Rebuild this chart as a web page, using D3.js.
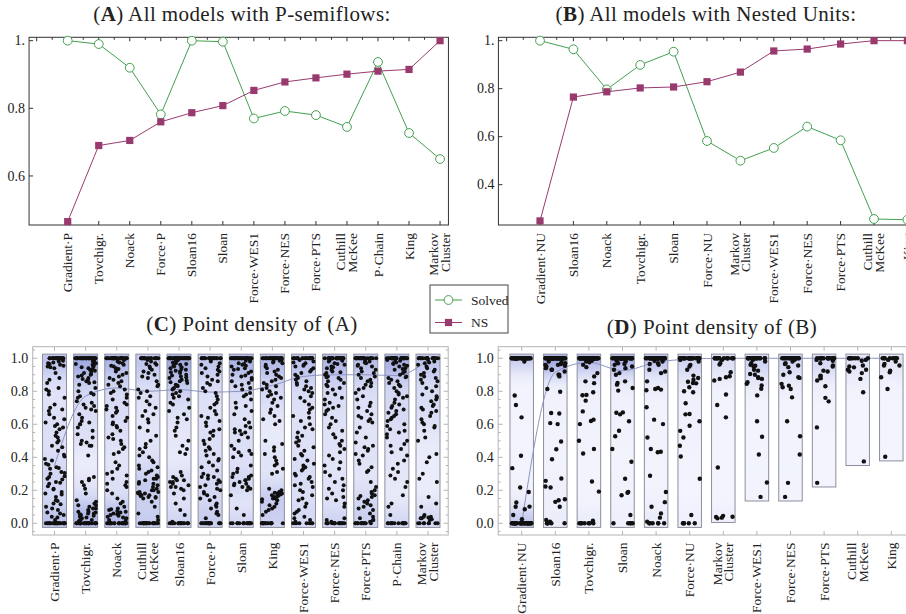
<!DOCTYPE html>
<html>
<head>
<meta charset="utf-8">
<script src="https://cdn.jsdelivr.net/npm/d3@7"></script>
<style>
body { margin: 0; background: #fff; }
svg text { font-family: "Liberation Serif", "Times New Roman", "DejaVu Serif", serif; fill: #222; }
</style>
</head>
<body>
<svg id="chart" width="906" height="614"></svg>
<script>
// ---- panel A / B: solved fraction and NS per method
var catsA = ["Gradient·P", "Tovchigr.", "Noack", "Force·P", "Sloan16", "Sloan", "Force·WES1", "Force·NES", "Force·PTS", "Cuthill\nMcKee", "P·Chain", "King", "Markov\nCluster"];
var solvedA = [1.0, 0.99, 0.92, 0.782, 1.0, 0.997, 0.77, 0.792, 0.78, 0.745, 0.937, 0.727, 0.65];
var nsA = [0.465, 0.69, 0.705, 0.76, 0.787, 0.808, 0.853, 0.878, 0.89, 0.901, 0.91, 0.915, 1.0];

var catsB = ["Gradient·NU", "Sloan16", "Noack", "Tovchigr.", "Sloan", "Force·NU", "Markov\nCluster", "Force·WES1", "Force·NES", "Force·PTS", "Cuthill\nMcKee", "King"];
var solvedB = [1.0, 0.964, 0.797, 0.899, 0.954, 0.582, 0.5, 0.553, 0.642, 0.585, 0.257, 0.254];
var nsB = [0.249, 0.765, 0.787, 0.803, 0.807, 0.829, 0.869, 0.957, 0.965, 0.986, 1.0, 1.0];

var ticksA = [0.6, 0.8, 1.0];
var ticksB = [0.4, 0.6, 0.8, 1.0];
var ticksCD = [0, 0.2, 0.4, 0.6, 0.8, 1.0];

// ---- panel C: point density of (A)
var catsC = ["Gradient·P", "Tovchigr.", "Noack", "Cuthill\nMcKee", "Sloan16", "Force·P", "Sloan", "King", "Force·WES1", "Force·NES", "Force·PTS", "P·Chain", "Markov\nCluster"];
var lineC = [0.35, 0.77, 0.82, 0.80, 0.81, 0.795, 0.80, 0.835, 0.89, 0.90, 0.90, 0.895, 0.99];
var topPileC = [20, 30, 28, 18, 30, 18, 28, 25, 20, 25, 22, 28, 18];   // points stacked at 1.0
var bottomPileC = [22, 22, 22, 20, 15, 18, 15, 15, 8, 15, 12, 15, 8];  // points stacked at 0.0
var pointsC = [
  [0.985,0.98,0.975,0.97,0.965,0.96,0.955,0.95,0.945,0.94,0.91,0.88,0.87,0.85,0.82,0.81,0.8,0.78,0.76,0.72,0.7,0.69,0.68,0.66,0.64,0.63,0.61,0.6,0.59,0.58,0.57,0.55,0.53,0.52,0.5,0.49,0.47,0.46,0.44,0.415,0.405,0.39,0.38,0.36,0.355,0.34,0.335,0.33,0.31,0.305,0.3,0.285,0.28,0.27,0.265,0.25,0.245,0.24,0.225,0.21,0.205,0.19,0.18,0.175,0.16,0.14,0.135,0.12,0.115,0.1,0.09,0.08,0.065,0.06,0.05,0.04,0.035,0.02],
  [0.99,0.985,0.98,0.975,0.97,0.965,0.96,0.955,0.95,0.945,0.94,0.935,0.93,0.925,0.92,0.91,0.905,0.9,0.895,0.89,0.88,0.875,0.87,0.86,0.855,0.85,0.84,0.82,0.8,0.79,0.78,0.77,0.76,0.74,0.73,0.72,0.71,0.7,0.69,0.68,0.66,0.64,0.62,0.61,0.6,0.6,0.58,0.56,0.54,0.52,0.5,0.49,0.48,0.47,0.47,0.41,0.28,0.27,0.26,0.25,0.23,0.21,0.18,0.14,0.13,0.12,0.11,0.11,0.1,0.09,0.09,0.08,0.07,0.07,0.065,0.06,0.06,0.055,0.05,0.045,0.04,0.035,0.03,0.025,0.02,0.015,0.01],
  [0.99,0.98,0.975,0.97,0.96,0.955,0.95,0.94,0.935,0.93,0.92,0.91,0.9,0.89,0.88,0.87,0.86,0.85,0.84,0.83,0.81,0.8,0.79,0.78,0.76,0.75,0.73,0.72,0.71,0.7,0.69,0.68,0.67,0.65,0.64,0.62,0.61,0.6,0.59,0.58,0.56,0.54,0.52,0.51,0.5,0.48,0.46,0.45,0.43,0.42,0.37,0.35,0.33,0.31,0.3,0.29,0.27,0.25,0.24,0.23,0.22,0.2,0.18,0.15,0.13,0.12,0.1,0.09,0.085,0.08,0.075,0.07,0.065,0.06,0.06,0.055,0.05,0.045,0.04,0.035,0.03,0.02,0.015],
  [0.99,0.98,0.97,0.965,0.96,0.95,0.94,0.93,0.92,0.91,0.9,0.89,0.88,0.86,0.84,0.83,0.81,0.8,0.79,0.77,0.76,0.74,0.72,0.7,0.68,0.66,0.65,0.63,0.61,0.58,0.56,0.53,0.5,0.48,0.46,0.45,0.43,0.41,0.4,0.38,0.37,0.35,0.34,0.33,0.32,0.31,0.3,0.29,0.28,0.27,0.27,0.26,0.25,0.24,0.24,0.23,0.22,0.21,0.2,0.2,0.19,0.19,0.185,0.18,0.18,0.175,0.17,0.17,0.165,0.16,0.16,0.155,0.15,0.13,0.1,0.06,0.04,0.02],
  [0.99,0.985,0.98,0.975,0.97,0.965,0.96,0.955,0.95,0.945,0.94,0.935,0.93,0.925,0.92,0.915,0.91,0.9,0.895,0.89,0.885,0.88,0.87,0.865,0.86,0.855,0.85,0.84,0.835,0.83,0.82,0.815,0.81,0.8,0.79,0.78,0.77,0.76,0.75,0.73,0.72,0.7,0.68,0.66,0.64,0.63,0.61,0.58,0.56,0.53,0.5,0.47,0.45,0.43,0.42,0.31,0.29,0.28,0.27,0.26,0.26,0.25,0.25,0.24,0.23,0.22,0.22,0.21,0.2,0.18,0.15,0.12,0.08,0.05,0.01],
  [0.99,0.98,0.97,0.96,0.95,0.94,0.93,0.92,0.91,0.9,0.89,0.87,0.86,0.85,0.84,0.82,0.8,0.79,0.77,0.75,0.73,0.72,0.7,0.68,0.66,0.65,0.64,0.62,0.61,0.59,0.57,0.56,0.55,0.53,0.51,0.5,0.48,0.46,0.45,0.44,0.42,0.41,0.39,0.38,0.37,0.35,0.34,0.32,0.3,0.29,0.28,0.28,0.27,0.26,0.25,0.24,0.23,0.22,0.21,0.2,0.19,0.18,0.17,0.16,0.15,0.14,0.12,0.11,0.1,0.09,0.07,0.06,0.05,0.03],
  [0.99,0.985,0.98,0.97,0.965,0.96,0.955,0.95,0.94,0.935,0.93,0.92,0.91,0.9,0.895,0.89,0.88,0.87,0.86,0.85,0.84,0.83,0.82,0.81,0.79,0.78,0.77,0.75,0.73,0.71,0.7,0.68,0.66,0.63,0.61,0.59,0.58,0.57,0.56,0.55,0.55,0.54,0.52,0.5,0.47,0.45,0.44,0.43,0.42,0.41,0.4,0.35,0.33,0.31,0.3,0.29,0.28,0.28,0.27,0.26,0.26,0.25,0.24,0.24,0.23,0.22,0.22,0.21,0.2,0.17,0.09,0.05],
  [0.99,0.985,0.98,0.975,0.97,0.96,0.95,0.94,0.93,0.92,0.91,0.9,0.89,0.88,0.87,0.86,0.85,0.84,0.83,0.82,0.81,0.8,0.79,0.78,0.77,0.76,0.75,0.73,0.71,0.69,0.67,0.65,0.63,0.62,0.6,0.5,0.48,0.46,0.44,0.42,0.4,0.38,0.36,0.35,0.33,0.31,0.3,0.21,0.2,0.19,0.185,0.18,0.18,0.175,0.17,0.17,0.165,0.16,0.16,0.155,0.15,0.15,0.145,0.14,0.13,0.12,0.11,0.1,0.09,0.08,0.07,0.05],
  [0.99,0.98,0.975,0.97,0.96,0.955,0.95,0.94,0.93,0.92,0.91,0.9,0.89,0.88,0.87,0.86,0.85,0.84,0.83,0.82,0.81,0.8,0.79,0.77,0.76,0.74,0.72,0.7,0.69,0.67,0.65,0.64,0.62,0.6,0.58,0.57,0.55,0.53,0.52,0.5,0.49,0.47,0.46,0.44,0.42,0.41,0.39,0.38,0.36,0.35,0.34,0.33,0.32,0.3,0.29,0.28,0.27,0.25,0.24,0.23,0.22,0.2,0.19,0.17,0.15,0.14,0.12,0.1,0.08,0.07,0.06,0.04,0.03,0.02,0.01],
  [0.99,0.985,0.98,0.97,0.965,0.96,0.95,0.945,0.94,0.93,0.92,0.915,0.91,0.9,0.89,0.885,0.88,0.87,0.86,0.85,0.84,0.83,0.82,0.81,0.79,0.78,0.76,0.75,0.73,0.72,0.71,0.7,0.69,0.68,0.66,0.64,0.62,0.6,0.58,0.56,0.54,0.52,0.5,0.48,0.47,0.45,0.43,0.41,0.39,0.37,0.35,0.33,0.31,0.29,0.27,0.25,0.23,0.21,0.2,0.18,0.16,0.15,0.14,0.12,0.1,0.03,0.02,0.01],
  [0.99,0.98,0.975,0.97,0.96,0.955,0.95,0.94,0.93,0.92,0.91,0.9,0.89,0.88,0.87,0.86,0.85,0.84,0.83,0.82,0.81,0.79,0.77,0.75,0.73,0.71,0.7,0.68,0.66,0.65,0.64,0.63,0.62,0.61,0.58,0.55,0.52,0.49,0.47,0.46,0.45,0.44,0.42,0.41,0.38,0.36,0.34,0.32,0.31,0.25,0.22,0.2,0.19,0.18,0.17,0.165,0.16,0.15,0.14,0.13,0.12,0.11,0.1,0.09,0.08,0.06,0.04,0.03,0.02,0.02,0.01],
  [0.99,0.985,0.98,0.975,0.97,0.965,0.96,0.955,0.95,0.94,0.935,0.93,0.92,0.91,0.9,0.89,0.885,0.88,0.87,0.86,0.85,0.84,0.83,0.82,0.8,0.79,0.78,0.77,0.76,0.75,0.73,0.72,0.71,0.7,0.69,0.68,0.67,0.66,0.65,0.64,0.63,0.62,0.6,0.59,0.57,0.56,0.55,0.54,0.52,0.5,0.48,0.47,0.45,0.43,0.41,0.38,0.36,0.33,0.31,0.29,0.27,0.25,0.22,0.17,0.12,0.1,0.05],
  [0.99,0.98,0.975,0.97,0.96,0.95,0.94,0.93,0.92,0.91,0.9,0.89,0.88,0.87,0.86,0.85,0.83,0.82,0.8,0.78,0.77,0.76,0.75,0.74,0.72,0.71,0.7,0.69,0.68,0.67,0.65,0.63,0.61,0.6,0.59,0.58,0.56,0.52,0.5,0.42,0.4,0.37,0.3,0.27,0.25,0.16,0.12,0.1,0.05,0.04,0.04,0.035,0.03,0.03,0.025,0.02]
];

// ---- panel D: point density of (B)
var catsD = ["Gradient·NU", "Sloan16", "Tovchigr.", "Sloan", "Noack", "Force·NU", "Markov\nCluster", "Force·WES1", "Force·NES", "Force·PTS", "Cuthill\nMcKee", "King"];
var lineD = [0.0, 0.915, 0.975, 0.925, 0.975, 0.995, 1.0, 1.0, 1.0, 1.0, 1.0, 1.0];
var topPileD = [30, 40, 36, 38, 30, 22, 14, 16, 18, 16, 8, 8];
var bottomPileD = [30, 5, 7, 5, 6, 5, 0, 0, 0, 0, 0, 0];
var pointsD = [
  [0.98, 0.774, 0.717, 0.642, 0.409, 0.334, 0.217, 0.19, 0.126, 0.101, 0.1, 0.085, 0.05, 0.024],
  [0.98, 0.975, 0.97, 0.965, 0.96, 0.96, 0.955, 0.95, 0.94, 0.93, 0.93, 0.92, 0.9, 0.9, 0.89, 0.814, 0.797, 0.668, 0.665, 0.607, 0.601, 0.496, 0.449, 0.388, 0.271, 0.257, 0.223, 0.217, 0.146, 0.14, 0.13, 0.1, 0.02, 0.01],
  [0.985, 0.98, 0.976, 0.96, 0.946, 0.91, 0.89, 0.86, 0.849, 0.794, 0.778, 0.776, 0.743, 0.678, 0.628, 0.62, 0.601, 0.5, 0.45, 0.423, 0.253, 0.192, 0.015, 0.01],
  [0.985, 0.98, 0.97, 0.965, 0.96, 0.95, 0.94, 0.93, 0.91, 0.9, 0.86, 0.85, 0.84, 0.82, 0.804, 0.672, 0.67, 0.66, 0.618, 0.561, 0.527, 0.45, 0.373, 0.27, 0.19, 0.185, 0.17, 0.05],
  [0.985, 0.98, 0.97, 0.965, 0.96, 0.93, 0.92, 0.91, 0.86, 0.82, 0.814, 0.81, 0.806, 0.703, 0.628, 0.601, 0.52, 0.45, 0.433, 0.43, 0.288, 0.19, 0.128, 0.1, 0.06, 0.034, 0.01],
  [0.99, 0.98, 0.96, 0.95, 0.93, 0.895, 0.88, 0.87, 0.858, 0.85, 0.848, 0.824, 0.8, 0.794, 0.727, 0.662, 0.66, 0.618, 0.591, 0.56, 0.52, 0.47, 0.405, 0.27, 0.05],
  [0.99, 0.97, 0.962, 0.915, 0.891, 0.885, 0.875, 0.865, 0.78, 0.717, 0.642, 0.338, 0.045, 0.04, 0.038, 0.034, 0.03],
  [0.99, 0.98, 0.97, 0.96, 0.955, 0.95, 0.93, 0.925, 0.905, 0.9, 0.885, 0.88, 0.875, 0.855, 0.845, 0.835, 0.815, 0.775, 0.618, 0.524, 0.417, 0.247, 0.16],
  [0.99, 0.98, 0.97, 0.965, 0.956, 0.946, 0.915, 0.9, 0.885, 0.881, 0.845, 0.834, 0.824, 0.814, 0.763, 0.618, 0.527, 0.417, 0.245, 0.16],
  [0.99, 0.985, 0.97, 0.956, 0.95, 0.925, 0.92, 0.895, 0.889, 0.879, 0.865, 0.83, 0.76, 0.739, 0.581, 0.245],
  [0.99, 0.985, 0.956, 0.95, 0.945, 0.93, 0.93, 0.92, 0.91, 0.875, 0.794, 0.375],
  [0.99, 0.98, 0.966, 0.956, 0.956, 0.925, 0.915, 0.885, 0.814, 0.403]
];

var green = "#43a050";
var purple = "#993a6e";
var serif = "'Liberation Serif', 'Times New Roman', 'DejaVu Serif', serif";

var svg = d3.select("#chart").attr("font-family", serif);
var defs = svg.append("defs");

function fmtA(d) { return d === 1 ? "1." : d3.format(".1f")(d); }

// deterministic jitter inside a box (layout only)
function jit(i, c) {
  var s = Math.sin(i * 127.1 + c * 311.7 + 1.3) * 43758.5453;
  return s - Math.floor(s);
}

function addTitle(cx, y, letter, rest) {
  var t = svg.append("text")
    .attr("x", cx).attr("y", y)
    .attr("text-anchor", "middle")
    .style("font-family", serif)
    .style("font-size", "21px")
    .style("letter-spacing", "0.4px");
  t.append("tspan").text("(");
  t.append("tspan").style("font-weight", "bold").text(letter);
  t.append("tspan").text(") " + rest);
}

function catLabels(g, cats, x, yTop) {
  cats.forEach(function(c, i) {
    var lines = c.split("\n");
    lines.forEach(function(s, k) {
      var off = lines.length === 1 ? 4.5 : (k === 0 ? -1.8 : 9.8);
      g.append("text")
        .attr("transform", "translate(" + (x(i) + off) + "," + yTop + ") rotate(-90)")
        .attr("text-anchor", "end")
        .style("font-family", serif)
        .style("font-size", "13.5px")
        .text(s);
    });
  });
}

// ---------- line panels (A, B)
function linePanel(o) {
  var n = o.cats.length;
  var top = 37.3, bottom = 225;
  var x = d3.scaleLinear().domain([0, n - 1]).range([o.xFirst, o.xFirst + (n - 1) * o.step]);
  var y = d3.scaleLinear().domain(o.yDomain).range([bottom, top]);
  var left = x(-1.245), right = x(n - 1 + 0.27);
  var g = svg.append("g");

  g.append("rect")
    .attr("x", left).attr("y", top)
    .attr("width", right - left).attr("height", bottom - top)
    .attr("fill", "none").attr("stroke", "#333").attr("stroke-width", 1);

  // y ticks + labels
  o.ticks.forEach(function(t) {
    g.append("line").attr("x1", left).attr("x2", left + 4)
      .attr("y1", y(t)).attr("y2", y(t)).attr("stroke", "#333");
    g.append("text").attr("x", left - 4).attr("y", y(t)).attr("dy", "0.33em")
      .attr("text-anchor", "end").style("font-family", serif)
      .style("font-size", "14px").text(fmtA(t));
  });

  // top ticks at categories and halves
  d3.range(-1, n - 0.5, 0.5).forEach(function(t) {
    var len = t % 1 === 0 ? 4 : 2.5;
    g.append("line").attr("x1", x(t)).attr("x2", x(t))
      .attr("y1", top).attr("y2", top + len).attr("stroke", "#333");
  });
  // bottom ticks at categories
  d3.range(n).forEach(function(i) {
    g.append("line").attr("x1", x(i)).attr("x2", x(i))
      .attr("y1", bottom).attr("y2", bottom - 4).attr("stroke", "#333");
  });

  var line = d3.line().x(function(d, i) { return x(i); }).y(function(d) { return y(d); });

  g.append("path").datum(o.solved).attr("d", line)
    .attr("fill", "none").attr("stroke", green).attr("stroke-width", 1);
  g.selectAll(".solved").data(o.solved).enter().append("circle")
    .attr("cx", function(d, i) { return x(i); })
    .attr("cy", function(d) { return y(d); })
    .attr("r", 4.4)
    .attr("fill", "#fff").attr("stroke", green).attr("stroke-width", 1);

  g.append("path").datum(o.ns).attr("d", line)
    .attr("fill", "none").attr("stroke", purple).attr("stroke-width", 1);
  g.selectAll(".ns").data(o.ns).enter().append("rect")
    .attr("x", function(d, i) { return x(i) - 3.6; })
    .attr("y", function(d) { return y(d) - 3.6; })
    .attr("width", 7.2).attr("height", 7.2)
    .attr("fill", purple);

  catLabels(g, o.cats, x, bottom + 8);
}

// ---------- density panels (C, D)
function densityPanel(o) {
  var n = o.cats.length;
  var top = 346.7, bottom = 535;
  var x = d3.scaleLinear().domain([0, n - 1]).range([o.xFirst, o.xFirst + (n - 1) * o.step]);
  var y = d3.scaleLinear().domain([-0.071, 1.07]).range([bottom, top]);
  var left = x(-0.7), right = x(n - 1 + 0.65);
  var g = svg.append("g");
  var frame = "#b4b4b4";

  g.append("rect")
    .attr("x", left).attr("y", top)
    .attr("width", right - left).attr("height", bottom - top)
    .attr("fill", "none").attr("stroke", frame).attr("stroke-width", 1);

  d3.range(-0.05, 1.06, 0.05).forEach(function(t) {
    var major = Math.abs(Math.round(t * 5) - t * 5) < 1e-6;
    var len = major ? 4.5 : 2.5;
    g.append("line").attr("x1", left).attr("x2", left + len)
      .attr("y1", y(t)).attr("y2", y(t)).attr("stroke", frame);
    g.append("line").attr("x1", right).attr("x2", right - len)
      .attr("y1", y(t)).attr("y2", y(t)).attr("stroke", frame);
  });
  o.ticks.forEach(function(t) {
    g.append("text").attr("x", left - 4.5).attr("y", y(t)).attr("dy", "0.33em")
      .attr("text-anchor", "end").style("font-family", serif)
      .style("font-size", "14px").text(d3.format(".1f")(t));
  });
  d3.range(n).forEach(function(i) {
    g.append("line").attr("x1", x(i)).attr("x2", x(i))
      .attr("y1", top).attr("y2", top + 4).attr("stroke", frame);
    g.append("line").attr("x1", x(i)).attr("x2", x(i))
      .attr("y1", bottom).attr("y2", bottom - 4).attr("stroke", frame);
  });

  // every column: scattered values plus the stacks at 1 and 0
  var cols = o.points.map(function(p, c) {
    var ones = d3.range(o.topPile[c]).map(function() { return 1; });
    var zeros = d3.range(o.bottomPile[c]).map(function() { return 0; });
    return { all: p.concat(ones, zeros) };
  });

  var h = 0.07, levels = 26;
  function kde(vals, v) {
    return d3.sum(vals, function(d) { var z = (v - d) / h; return Math.exp(-0.5 * z * z); });
  }
  cols.forEach(function(col) {
    col.hi = d3.max(col.all) + 0.025;
    col.lo = d3.min(col.all) - 0.025;
    col.dens = d3.range(levels).map(function(k) {
      return kde(col.all, col.hi - k / (levels - 1) * (col.hi - col.lo));
    });
  });
  var dMax = d3.max(cols, function(c) { return d3.max(c.dens); });
  var shade = d3.interpolateRgb("#f3f4fd", "#a2abe3");

  cols.forEach(function(col, c) {
    var id = o.id + "g" + c;
    var grad = defs.append("linearGradient").attr("id", id)
      .attr("x1", 0).attr("y1", 0).attr("x2", 0).attr("y2", 1);
    col.dens.forEach(function(d, k) {
      grad.append("stop").attr("offset", k / (levels - 1))
        .attr("stop-color", shade(Math.pow(d / dMax, o.gamma)));
    });
    g.append("rect")
      .attr("x", x(c) - o.boxW / 2).attr("y", y(col.hi))
      .attr("width", o.boxW).attr("height", y(col.lo) - y(col.hi))
      .attr("fill", "url(#" + id + ")")
      .attr("stroke", "#8c8f9c").attr("stroke-width", 1);
  });

  g.append("path").datum(o.line)
    .attr("d", d3.line().curve(d3.curveMonotoneX)
      .x(function(d, i) { return x(i); }).y(function(d) { return y(d); }))
    .attr("fill", "none").attr("stroke", "#8c94c4").attr("stroke-width", 1);

  cols.forEach(function(col, c) {
    var w = o.boxW - 3;
    g.selectAll(".p" + c).data(col.all).enter().append("circle")
      .attr("cx", function(d, i) { return x(c) + (jit(i, c + o.seed) - 0.5) * w; })
      .attr("cy", function(d) { return y(d); })
      .attr("r", o.r)
      .attr("fill", "#111");
  });

  catLabels(g, o.cats, x, bottom + 7.5);
}

addTitle(242, 21, "A", "All models with P-semiflows:");
addTitle(706, 21, "B", "All models with Nested Units:");
addTitle(252, 331, "C", "Point density of (A)");
addTitle(712, 334, "D", "Point density of (B)");

linePanel({ cats: catsA, solved: solvedA, ns: nsA, ticks: ticksA,
  xFirst: 67.7, step: 31.03, yDomain: [0.455, 1.01] });
linePanel({ cats: catsB, solved: solvedB, ns: nsB, ticks: ticksB,
  xFirst: 540, step: 33.4, yDomain: [0.232, 1.014] });

densityPanel({ id: "c", cats: catsC, points: pointsC, topPile: topPileC, bottomPile: bottomPileC,
  line: lineC, ticks: ticksCD, xFirst: 54.5, step: 31.125, boxW: 24, r: 2, seed: 0, gamma: 0.9 });
densityPanel({ id: "d", cats: catsD, points: pointsD, topPile: topPileD, bottomPile: bottomPileD,
  line: lineD, ticks: ticksCD, xFirst: 521.7, step: 33.6, boxW: 23.5, r: 2.2, seed: 40, gamma: 1.3 });

// legend
var lg = svg.append("g").attr("transform", "translate(430,285)");
lg.append("rect").attr("width", 78).attr("height", 48)
  .attr("fill", "#fff").attr("stroke", "#444").attr("stroke-width", 1);
lg.append("line").attr("x1", 5).attr("x2", 32).attr("y1", 15).attr("y2", 15)
  .attr("stroke", green);
lg.append("circle").attr("cx", 18.5).attr("cy", 15).attr("r", 4.4)
  .attr("fill", "#fff").attr("stroke", green);
lg.append("text").attr("x", 41).attr("y", 19.5).style("font-family", serif)
  .style("font-size", "13.5px").text("Solved");
lg.append("line").attr("x1", 5).attr("x2", 32).attr("y1", 37.5).attr("y2", 37.5)
  .attr("stroke", purple);
lg.append("rect").attr("x", 14.9).attr("y", 33.9).attr("width", 7.2).attr("height", 7.2)
  .attr("fill", purple);
lg.append("text").attr("x", 41).attr("y", 42).style("font-family", serif)
  .style("font-size", "13.5px").text("NS");
</script>
</body>
</html>
